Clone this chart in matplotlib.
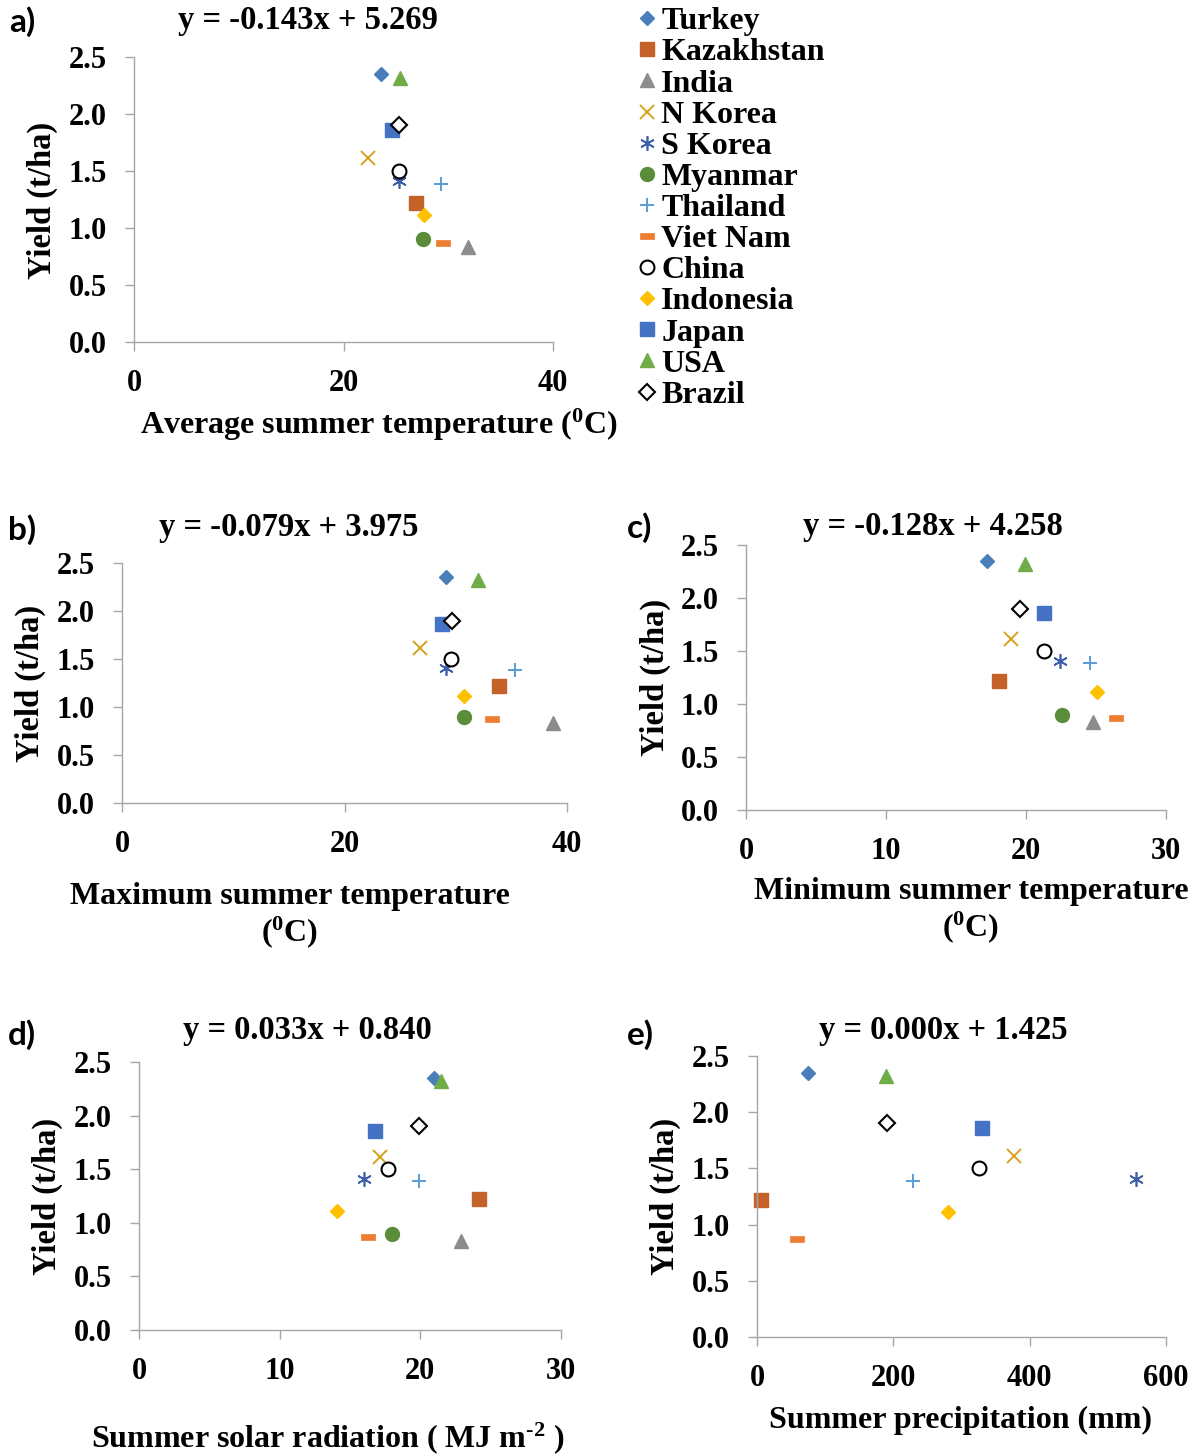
import numpy as np
import matplotlib
matplotlib.use("Agg")
import matplotlib.pyplot as plt
from matplotlib.path import Path

plt.rcParams["font.family"] = ["Liberation Serif", "DejaVu Serif"]
plt.rcParams["font.weight"] = "bold"
plt.rcParams["mathtext.fontset"] = "custom"
plt.rcParams["mathtext.rm"] = "Liberation Serif:bold"
plt.rcParams["mathtext.it"] = "Liberation Serif:bold"
plt.rcParams["mathtext.bf"] = "Liberation Serif:bold"

countries = ["Turkey", "Kazakhstan", "India", "N Korea", "S Korea", "Myanmar",
             "Thailand", "Viet Nam", "China", "Indonesia", "Japan", "USA", "Brazil"]

yield_tha = [2.35, 1.22, 0.83, 1.61, 1.41, 0.90, 1.39, 0.87, 1.50, 1.11, 1.86, 2.32, 1.90]

avg_temp = [23.6, 26.9, 31.9, 22.3, 25.3, 27.6, 29.3, 29.5, 25.3, 27.7, 24.6, 25.4, 25.3]
max_temp = [29.1, 33.9, 38.7, 26.8, 29.1, 30.7, 35.3, 33.3, 29.6, 30.7, 28.8, 32.0, 29.7]
min_temp = [17.2, 18.1, 24.8, 18.9, 22.4, 22.6, 24.6, 26.4, 21.3, 25.1, 21.3, 19.9, 19.6]
solar_rad = [21.0, 24.2, 22.9, 17.1, 16.0, 18.0, 19.9, 16.3, 17.7, 14.1, 16.8, 21.5, 19.9]
# India and Myanmar fall outside the 0-600 mm range
precip = [75, 6, np.nan, 377, 556, np.nan, 229, 59, 326, 280, 330, 189, 191]

equations = ["y = -0.143x + 5.269", "y = -0.079x + 3.975", "y = -0.128x + 4.258",
             "y = 0.033x + 0.840", "y = 0.000x + 1.425"]

# Excel-style short bar marker for Viet Nam
dash = Path([(-1, -0.38), (1, -0.38), (1, 0.38), (-1, 0.38), (-1, -0.38)],
            [Path.MOVETO, Path.LINETO, Path.LINETO, Path.LINETO, Path.CLOSEPOLY])

styles = {
    "Turkey":     dict(marker="D", ms=7.2, mfc="#4a7ebb", mec="#4a7ebb"),
    "Kazakhstan": dict(marker="s", ms=10.2, mfc="#c5622a", mec="#c5622a"),
    "India":      dict(marker="^", ms=10.5, mfc="#8c8c8c", mec="#8c8c8c"),
    "N Korea":    dict(marker="x", ms=9.5, mec="#d6a21c", mew=1.4),
    "S Korea":    dict(marker=(6, 2, 0), ms=10.5, mec="#3d5ea9", mew=1.2),
    "Myanmar":    dict(marker="o", ms=10, mfc="#5a8c3a", mec="#5a8c3a"),
    "Thailand":   dict(marker="+", ms=10.5, mec="#5b9bd5", mew=1.4),
    "Viet Nam":   dict(marker=dash, ms=9.5, mfc="#ed7d31", mec="#ed7d31", mew=0.5),
    "China":      dict(marker="o", ms=10, mfc="white", mec="black", mew=1.5),
    "Indonesia":  dict(marker="D", ms=7.4, mfc="#ffc000", mec="#ffc000"),
    "Japan":      dict(marker="s", ms=10.2, mfc="#4472c4", mec="#4472c4"),
    "USA":        dict(marker="^", ms=10.5, mfc="#70ad47", mec="#70ad47"),
    "Brazil":     dict(marker="D", ms=8.6, mfc="white", mec="black", mew=1.5),
}

W, H = 1194, 1456
fig = plt.figure(figsize=(W / 100, H / 100), dpi=100)


def px_rect(x0, x1, ytop, ybot):
    return [x0 / W, 1 - ybot / H, (x1 - x0) / W, (ybot - ytop) / H]


def ftext(x, y, s, **kw):
    kw.setdefault("ha", "center")
    kw.setdefault("va", "center")
    kw.setdefault("fontsize", 23)
    return fig.text(x / W, 1 - y / H, s, **kw)


panels = [
    dict(rect=px_rect(134, 553, 57, 342), x=avg_temp, xlim=40, xticks=[0, 20, 40]),
    dict(rect=px_rect(122, 567, 563, 803), x=max_temp, xlim=40, xticks=[0, 20, 40]),
    dict(rect=px_rect(746, 1166, 545, 810), x=min_temp, xlim=30, xticks=[0, 10, 20, 30]),
    dict(rect=px_rect(139, 561, 1062, 1330), x=solar_rad, xlim=30, xticks=[0, 10, 20, 30]),
    dict(rect=px_rect(757, 1166, 1056, 1337), x=precip, xlim=600, xticks=[0, 200, 400, 600]),
]

axes = []
for p in panels:
    ax = fig.add_axes(p["rect"])
    for i, c in enumerate(countries):
        ax.plot(p["x"][i], yield_tha[i], ls="none", label=c, clip_on=False, **styles[c])
    ax.set_xlim(0, p["xlim"])
    ax.set_ylim(0, 2.5)
    ax.set_xticks(p["xticks"])
    ax.set_yticks([0, 0.5, 1.0, 1.5, 2.0, 2.5])
    ax.yaxis.set_major_formatter(matplotlib.ticker.FormatStrFormatter("%.1f"))
    for side in ["top", "right"]:
        ax.spines[side].set_visible(False)
    for side in ["left", "bottom"]:
        ax.spines[side].set_color("#a6a6a6")
        ax.spines[side].set_linewidth(1.0)
    ax.tick_params(axis="both", direction="out", length=6.5, width=1.0, color="#a6a6a6",
                   labelsize=22)
    ax.tick_params(axis="y", pad=13)
    ax.tick_params(axis="x", pad=13)
    axes.append(ax)

# legend beside panel a
axes[0].legend(loc="upper left", bbox_to_anchor=(638 / W, 1 - 7 / H),
               bbox_transform=fig.transFigure, frameon=False, fontsize=23,
               handlelength=0.55, handletextpad=0.18, labelspacing=0.055,
               borderpad=0, borderaxespad=0)

# regression equations
eq_pos = [(308, 20), (289, 527), (933, 526), (307, 1031), (943, 1031)]
for (x, y), s in zip(eq_pos, equations):
    ftext(x, y, s, fontsize=23.5)

# panel letters
for (x, y), s in zip([(22, 22), (22, 530), (640, 528), (22, 1035), (640, 1035)],
                     ["a)", "b)", "c)", "d)", "e)"]):
    ftext(x, y, s, family="Lato", fontsize=24)

# y labels
for x, y in [(42, 200), (30, 683), (655, 677), (47, 1196), (665, 1196)]:
    ftext(x, y, "Yield (t/ha)", rotation=90, fontsize=23.5)

# x labels
ftext(379, 425, "Average summer temperature ($^{0}$C)")
ftext(290, 916, "Maximum summer temperature\n($^{0}$C)", linespacing=1.1)
ftext(971, 911, "Minimum summer temperature\n($^{0}$C)", linespacing=1.1)
ftext(328, 1438, "Summer solar radiation ( MJ m$^{\\text{-}2}$ )")
ftext(961, 1420, "Summer precipitation (mm)")

fig.savefig("out.png", dpi=100, facecolor="white")
